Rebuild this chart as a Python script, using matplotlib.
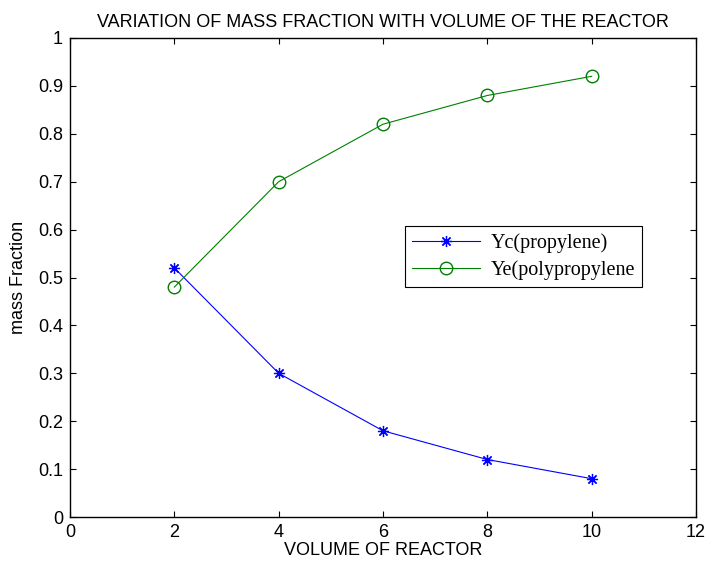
import numpy as np
import matplotlib.pyplot as plt

volume = [2, 4, 6, 8, 10]
yc_propylene = [0.52, 0.30, 0.18, 0.12, 0.08]
ye_polypropylene = [0.48, 0.70, 0.82, 0.88, 0.92]

plt.rcParams['font.family'] = ['Liberation Sans', 'DejaVu Sans']

fig = plt.figure(figsize=(7.08, 5.66), dpi=100)
ax = fig.add_axes([70 / 708, 49 / 566, 626 / 708, 479 / 566])

ax.plot(volume, yc_propylene, color='blue', marker=(8, 2, 0), markersize=8,
        markeredgewidth=0.9, linewidth=0.8, label='Yc(propylene)')
ax.plot(volume, ye_polypropylene, color='green', marker='o', markersize=9,
        markerfacecolor='none', linewidth=0.8, label='Ye(polypropylene')

ax.set_xlim(0, 12)
ax.set_ylim(0, 1)
ax.set_xticks(np.arange(0, 13, 2))
ax.set_yticks(np.arange(0, 1.01, 0.1))
ax.set_yticklabels(['0', '0.1', '0.2', '0.3', '0.4', '0.5', '0.6', '0.7', '0.8', '0.9', '1'])
ax.tick_params(direction='in', top=True, right=True, labelsize=13, length=4, pad=5)
for s in ax.spines.values():
    s.set_linewidth(1.0)

ax.set_title('VARIATION OF MASS FRACTION WITH VOLUME OF THE REACTOR', fontsize=13, pad=8)
ax.set_xlabel('VOLUME OF REACTOR', fontsize=13, labelpad=1)
ax.set_ylabel('mass Fraction', fontsize=13, labelpad=8)

leg = ax.legend(loc='upper left', bbox_to_anchor=(0.535, 0.6075), fancybox=False,
                edgecolor='black', framealpha=1, borderaxespad=0,
                prop={'family': 'Liberation Serif', 'size': 14.5},
                handlelength=3.4, labelspacing=0.35, borderpad=0.35, handletextpad=0.5)
leg.get_frame().set_linewidth(0.8)

fig.savefig('out.png', dpi=100)
